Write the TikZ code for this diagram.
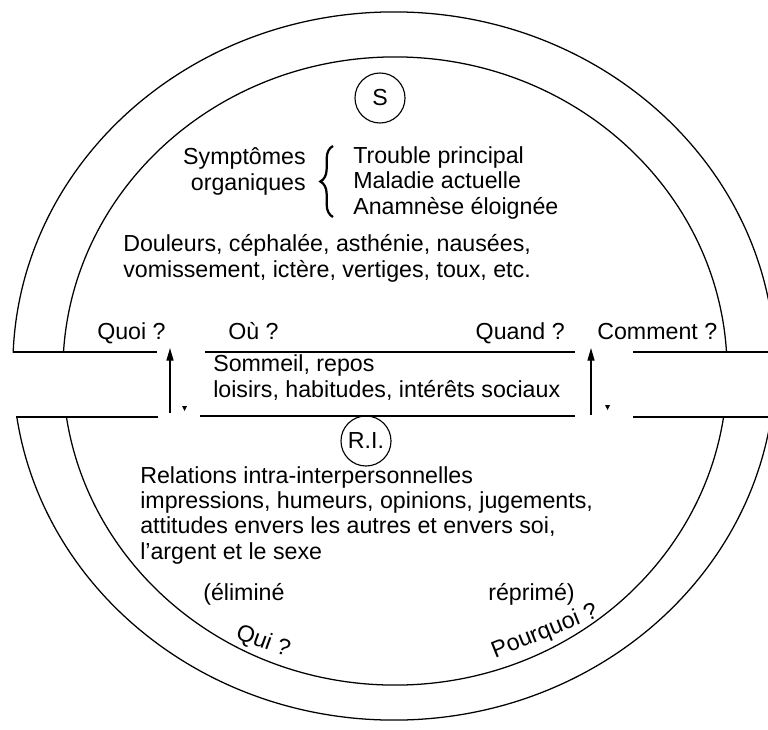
\documentclass[tikz,border=0pt]{standalone}
\usepackage{fontspec}
\setmainfont{Liberation Sans}
\usetikzlibrary{positioning,arrows.meta,decorations.pathreplacing}

\begin{document}
\begin{tikzpicture}[x=0.025cm,y=-0.025cm,
  every node/.style={inner sep=0pt, font=\fontsize{16.5}{17.8}\selectfont},
  txt/.style={anchor=base west, align=left},
  ring/.style={line width=0.9pt},
  band/.style={line width=0.9pt},
  letter/.style={circle, draw, line width=0.8pt, minimum size=1.25cm},
  up/.style={line width=0.9pt, -{Triangle[width=5pt,length=9pt]}}]

\useasboundingbox (0,0) rectangle (768,729);

% Rings, cut by the band
\begin{scope}
  \clip (0,0) rectangle (768,352);
  \draw[ring] (394,366) ellipse [x radius=9.525cm, y radius=8.85cm];
  \draw[ring] (395,371) ellipse [x radius=8.3cm, y radius=7.85cm];
\end{scope}
\begin{scope}
  \clip (0,417) rectangle (768,729);
  \draw[ring] (394,366) ellipse [x radius=9.525cm, y radius=8.85cm];
  \draw[ring] (395,371) ellipse [x radius=8.3cm, y radius=7.85cm];
\end{scope}

% Band edges
\coordinate (lt1) at (13,352);  \coordinate (lt2) at (157,352);
\coordinate (lb1) at (16,417);  \coordinate (lb2) at (158,417);
\coordinate (mt1) at (205,352); \coordinate (mt2) at (575,352);
\coordinate (mb1) at (200,416); \coordinate (mb2) at (575,416);
\coordinate (rt1) at (633,352); \coordinate (rt2) at (768,352);
\coordinate (rb1) at (633,417); \coordinate (rb2) at (768,417);
\draw[band] (lt1) -- (lt2);
\draw[band] (lb1) -- (lb2);
\draw[band] (mt1) -- (mt2);
\draw[band] (mb1) -- (mb2);
\draw[band] (rt1) -- (rt2);
\draw[band] (rb1) -- (rb2);

% Upper half (multi-line nodes: base = last line)
\node (s) [letter] at (380,98) {S};
\node (symp) [anchor=base east, align=right] at (306,190) {Symptômes\\organiques};
\node (items) [txt] at (353,214) {Trouble principal\\Maladie actuelle\\Anamnèse éloignée};
\draw[line width=1.6pt, decorate, decoration={brace, amplitude=9pt}] (333,217) -- (333,146);
\node (douleurs) [txt] at (123,277) {Douleurs, céphalée, asthénie, nausées,\\vomissement, ictère, vertiges, toux, etc.};

% Band
\node (quoi) [txt] at (97,339) {Quoi ?};
\node (ou) [txt] at (228,339) {Où ?};
\node (quand) [anchor=base east] at (565,339) {Quand ?};
\node (comment) [txt] at (597,339) {Comment ?};
\node (sommeil) [txt] at (213,397) {Sommeil, repos\\loisirs, habitudes, intérêts sociaux};

\coordinate (a1) at (170,413); \coordinate (a2) at (170,348);
\coordinate (b1) at (591,415); \coordinate (b2) at (591,348);
\draw[up] (a1) -- (a2);
\draw[up] (b1) -- (b2);
\fill (182,406) -- (187,406) -- (184.5,411) -- cycle;
\fill (605,405) -- (610,405) -- (607.5,410) -- cycle;

% Lower half
\node (ri) [letter] at (366,441) {R.I.};
\node (relations) [txt] at (140,559) {Relations intra-interpersonnelles\\impressions, humeurs, opinions, jugements,\\attitudes envers les autres et envers soi,\\l'argent et le sexe};
\node (elimine) [txt] at (203,600) {(éliminé};
\node (reprime) [txt] at (488,600) {réprimé)};
\node (qui) [rotate=-20] at (263,642) {Qui ?};
\node (pourquoi) [rotate=22] at (545,632) {Pourquoi ?};

\end{tikzpicture}
\end{document}
